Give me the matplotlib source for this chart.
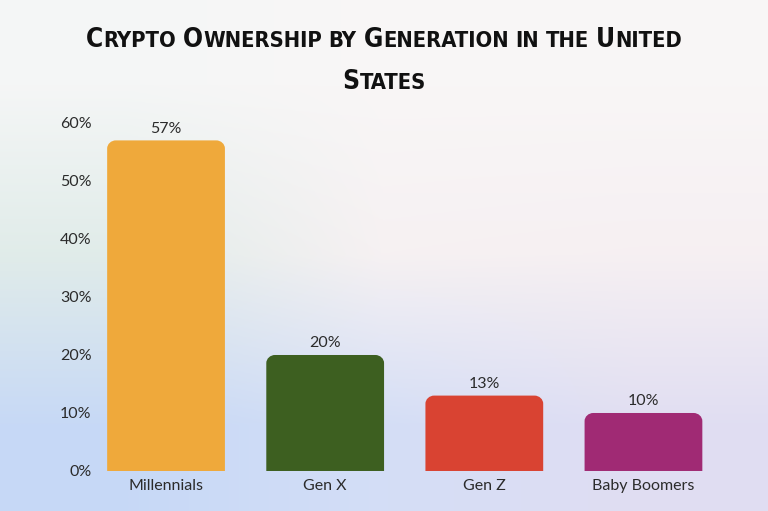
import matplotlib
matplotlib.use("Agg")
from matplotlib import pyplot as plt
from matplotlib.path import Path
from matplotlib.patches import PathPatch
import numpy as np

title_lines = ["Crypto Ownership by Generation in the United", "States"]
generations = ["Millennials", "Gen X", "Gen Z", "Baby Boomers"]
ownership = [57, 20, 13, 10]
bar_colors = ["#EFA93B", "#3D5F20", "#D94332", "#A02A74"]
y_ticks = [0, 10, 20, 30, 40, 50, 60]

plt.rcParams["font.family"] = ["Lato", "DejaVu Sans"]
TITLE_FONT = dict(family="DejaVu Sans", fontweight="bold", fontstretch="condensed",
                  color="#111111")


def rounded_top_bar(x0, x1, top, rx, ry):
    # bar with rounded upper corners, bezier arcs
    k = 0.5523
    verts = [
        (x0, 0), (x0, top - ry),
        (x0, top - ry + k * ry), (x0 + rx - k * rx, top), (x0 + rx, top),
        (x1 - rx, top),
        (x1 - rx + k * rx, top), (x1, top - ry + k * ry), (x1, top - ry),
        (x1, 0), (x0, 0),
    ]
    codes = [Path.MOVETO, Path.LINETO,
             Path.CURVE4, Path.CURVE4, Path.CURVE4,
             Path.LINETO,
             Path.CURVE4, Path.CURVE4, Path.CURVE4,
             Path.LINETO, Path.CLOSEPOLY]
    return Path(verts, codes)


def runs(line):
    # split into (text, is_cap) runs, spaces kept as their own runs
    out = []
    for ch in line:
        kind = "sp" if ch == " " else ch.isupper()
        if out and out[-1][1] == kind:
            out[-1][0] += ch
        else:
            out.append([ch, kind])
    return out


def measure(fig, r, s, size):
    t = fig.text(0, 0, s, fontsize=size, **TITLE_FONT)
    w = t.get_window_extent(r).width
    t.remove()
    return w


def small_caps_line(fig, line, y_px, big, small, draw=True):
    r = fig.canvas.get_renderer()
    space = measure(fig, r, "X X", small) - measure(fig, r, "XX", small)
    parts = []
    for s, kind in runs(line):
        if kind == "sp":
            parts.append((None, space * len(s), None))
        else:
            size = big if kind else small
            parts.append((s.upper(), measure(fig, r, s.upper(), size), size))
    total = sum(p[1] for p in parts)
    if not draw:
        return total
    W, H = fig.bbox.width, fig.bbox.height
    xpos = (W - total) / 2
    for s, w, size in parts:
        if s is not None:
            fig.text(xpos / W, 1 - y_px / H, s, fontsize=size, ha="left",
                     va="baseline", **TITLE_FONT)
        xpos += w
    return total


fig = plt.figure(figsize=(7.68, 5.11), dpi=100)

# soft gradient background
bg = fig.add_axes([0, 0, 1, 1], zorder=-10)
corners = np.array([
    [[0.96, 0.965, 0.965], [0.975, 0.965, 0.965], [0.975, 0.965, 0.965]],
    [[0.88, 0.925, 0.915], [0.965, 0.945, 0.95], [0.965, 0.94, 0.95]],
    [[0.78, 0.85, 0.965], [0.83, 0.87, 0.965], [0.88, 0.87, 0.95]],
])
bg.imshow(corners, interpolation="bilinear", aspect="auto", extent=[0, 1, 0, 1])
bg.axis("off")

ax = fig.add_axes([0.1302, 0.0783, 0.8216, 0.681])
ax.patch.set_alpha(0)
x = np.arange(len(generations))
width = 0.74
bars = ax.bar(x, ownership, width=width, color="none")
for b, c in zip(bars, bar_colors):
    x0 = b.get_x()
    x1 = x0 + b.get_width()
    h = b.get_height()
    b.set_visible(False)
    ax.add_patch(PathPatch(rounded_top_bar(x0, x1, h, 0.055, 1.4),
                           facecolor=c, edgecolor="none"))
    ax.text(x0 + b.get_width() / 2, h + 0.8, f"{h:.0f}%", ha="center", va="bottom",
            fontsize=11.5, color="#2b2b2b")

ax.set_xlim(-0.415, 3.55)
ax.set_ylim(0, 60)
ax.set_yticks(y_ticks)
ax.set_yticklabels([f"{v}%" for v in y_ticks])
ax.set_xticks(x)
ax.set_xticklabels(generations)
ax.tick_params(length=0, labelsize=11.5, labelcolor="#2b2b2b")
ax.tick_params(axis="y", pad=6)
ax.tick_params(axis="x", pad=6)
for s in ax.spines.values():
    s.set_visible(False)

# title in faux small caps, scaled to span the reference width
big, small = 24.0, 20.0
w0 = small_caps_line(fig, title_lines[0], 47, big, small, draw=False)
scale = 597 / w0
big, small = big * scale, small * scale
small_caps_line(fig, title_lines[0], 47, big, small)
small_caps_line(fig, title_lines[1], 89, big, small)

fig.savefig("out.png", dpi=100)
